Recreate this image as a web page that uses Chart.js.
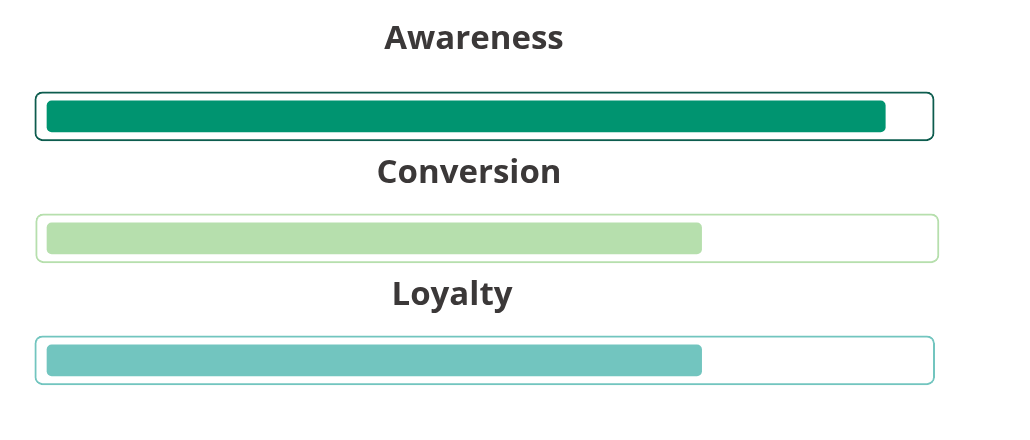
<!DOCTYPE html>
<html>
<head>
<meta charset="utf-8">
<script src="https://cdn.jsdelivr.net/npm/chart.js@4.4.1/dist/chart.umd.min.js"></script>
<style>
  html, body { margin: 0; padding: 0; background: #fff; }
  body { width: 1030px; height: 440px; position: relative; overflow: hidden; }
  .gauge { position: absolute; left: 0; width: 1030px; }
</style>
</head>
<body>
<div class="gauge" id="g0" style="top:0;height:150px"><canvas id="c0"></canvas></div>
<div class="gauge" id="g1" style="top:150px;height:122px"><canvas id="c1"></canvas></div>
<div class="gauge" id="g2" style="top:272px;height:122px"><canvas id="c2"></canvas></div>
<script>
/* ── Data ─────────────────────────────────────────────── */
const stages      = ["Awareness", "Conversion", "Loyalty"];
const stageValues = [96, 75, 75];              // % of target
const trackStart  = [-1.4, -1.3, -1.4];        // outline bar, a little past 0..100
const trackEnd    = [101.6, 102.2, 101.7];
const fillColours   = ["#009470", "#b6dfad", "#72c5bf"];
const borderColours = ["#0d5c4e", "#b6dfad", "#72c5bf"];

/* ── Layout per gauge ─────────────────────────────────── */
const scaleMax   = [97.8, 96.7, 92.8];
const padRight   = [129, 139, 173];
const titlePad   = [{ top: 20, bottom: 23 }, { top: 4, bottom: 11 }, { top: 4, bottom: 11 }];

const TEXT_COLOUR = "#3b3838";

function makeGauge(i) {
  const canvas = document.getElementById("c" + i);
  return new Chart(canvas, {
    type: "bar",
    data: {
      labels: [stages[i]],
      datasets: [
        {
          label: stages[i],
          data: [stageValues[i]],
          backgroundColor: fillColours[i],
          borderWidth: 0,
          borderRadius: 5,
          borderSkipped: false,
          barThickness: 31,
          grouped: false,
          clip: false,
        },
        {
          label: "track",
          data: [[trackStart[i], trackEnd[i]]],
          backgroundColor: "#ffffff",
          borderColor: borderColours[i],
          borderWidth: 2,
          borderRadius: 8,
          borderSkipped: false,
          barThickness: 49,
          grouped: false,
          clip: false,
        },
      ],
    },
    options: {
      indexAxis: "y",
      responsive: true,
      maintainAspectRatio: false,
      animation: false,
      events: [],
      layout: { padding: { left: 47, right: padRight[i], top: 0, bottom: 0 } },
      plugins: {
        legend: { display: false },
        tooltip: { enabled: false },
        title: {
          display: true,
          text: stages[i],
          color: TEXT_COLOUR,
          font: { family: "'Open Sans', sans-serif", size: 33, weight: "bold" },
          padding: titlePad[i],
        },
      },
      scales: {
        x: { display: false, min: 0, max: scaleMax[i] },
        y: { display: false },
      },
    },
  });
}

stages.forEach((_, i) => makeGauge(i));
</script>
</body>
</html>
